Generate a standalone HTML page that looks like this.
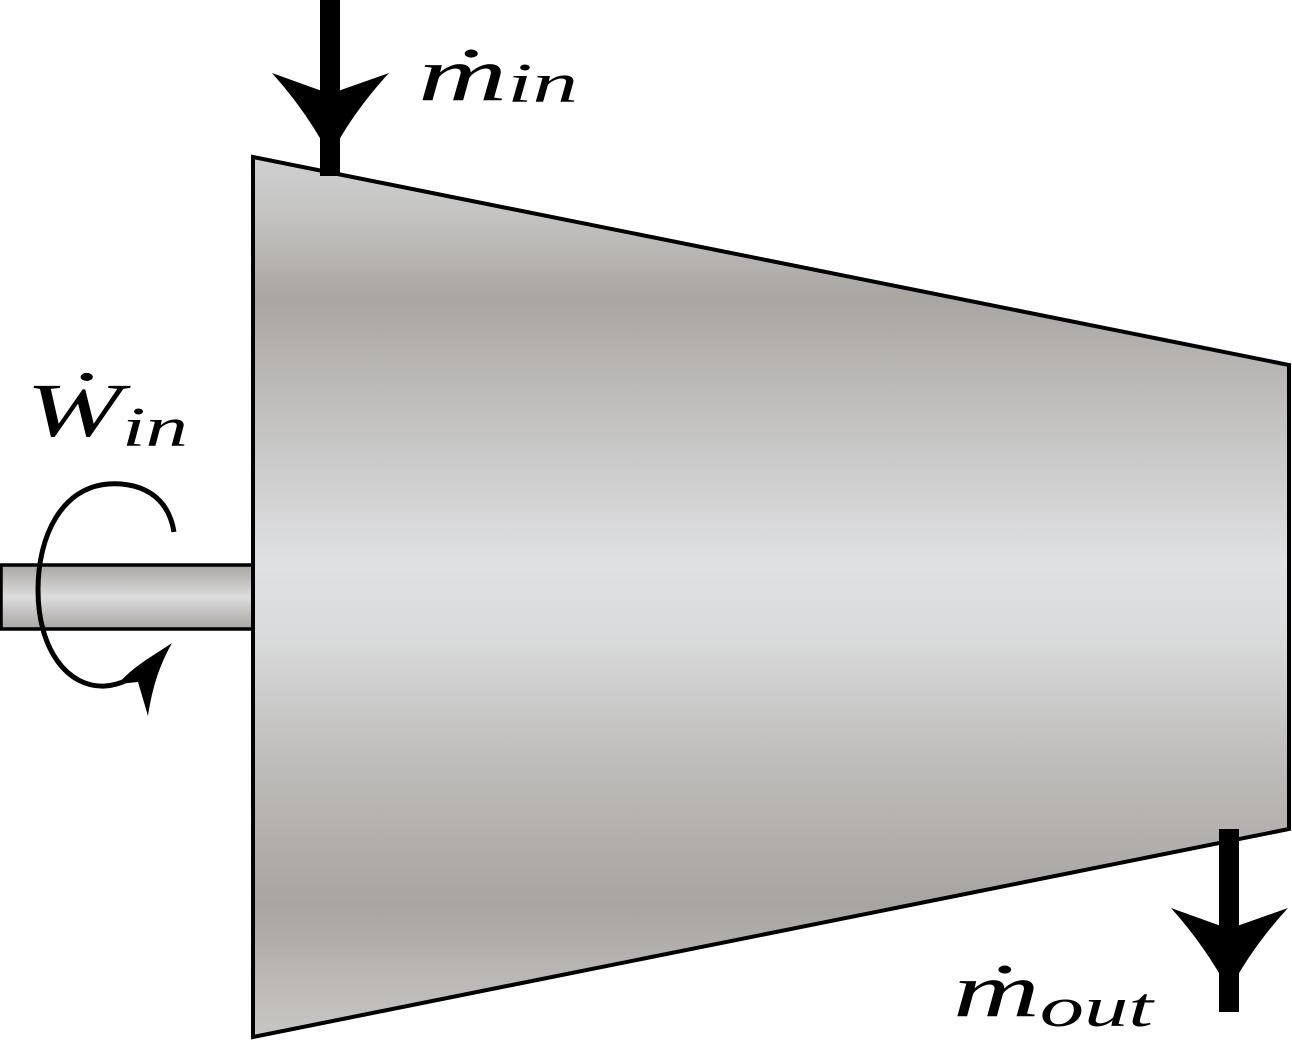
<!DOCTYPE html>
<html><head><meta charset="utf-8"><style>
html,body{margin:0;padding:0;background:#fff;}
svg{display:block;}
text{font-family:"Liberation Serif",serif;font-style:italic;fill:#000;}
</style></head><body>
<svg width="1292" height="1040" viewBox="0 0 1292 1040">
<defs>
<linearGradient id="body" x1="0" y1="0" x2="0" y2="1">
<stop offset="0" stop-color="#cfcfcf"/>
<stop offset="0.06" stop-color="#c6c5c4"/>
<stop offset="0.16" stop-color="#a9a5a1"/>
<stop offset="0.3" stop-color="#c3c2c1"/>
<stop offset="0.46" stop-color="#dfe0e2"/>
<stop offset="0.54" stop-color="#dadbdc"/>
<stop offset="0.7" stop-color="#bcbab8"/>
<stop offset="0.85" stop-color="#a8a4a0"/>
<stop offset="1" stop-color="#c9c7c4"/>
</linearGradient>
<linearGradient id="shaft" x1="0" y1="0" x2="0" y2="1">
<stop offset="0" stop-color="#a9a5a1"/>
<stop offset="0.5" stop-color="#dcdcdd"/>
<stop offset="1" stop-color="#a9a5a1"/>
</linearGradient>
</defs>
<rect x="1" y="565" width="252" height="64" fill="url(#shaft)" stroke="#000" stroke-width="3.5"/>
<polygon points="253,157 1289,365 1289,829 253,1037" fill="url(#body)" stroke="#000" stroke-width="4"/>
<g>
<rect x="320" y="0" width="20" height="176" fill="#000"/>
<path d="M272,73 L322,91 L338,91 L389,73 Q353,112 330,156 Q307,112 272,73 Z" fill="#000"/>
</g>
<g>
<rect x="1219" y="829" width="20" height="183" fill="#000"/>
<path d="M1171,908 L1221,926 L1237,926 L1288,908 Q1252,947 1229,991 Q1206,947 1171,908 Z" fill="#000"/>
</g>
<g>
<path d="M174,532 C168,495 140,482 108,484 C62,488 38,535 38,590 C38,650 68,688 105,686 C118,685 128,680 134,676" fill="none" stroke="#000" stroke-width="5"/>
<path d="M172,643 C150,658 135,665 118,684 L138,682 L148,716 C152,690 158,668 172,643 Z" fill="#000"/>
</g>
<text x="418" y="100" font-size="76" textLength="160" lengthAdjust="spacingAndGlyphs">ṁ<tspan font-size="56" dy="2">in</tspan></text>
<text x="26" y="436" font-size="76" textLength="162" lengthAdjust="spacingAndGlyphs">Ẇ<tspan font-size="56" dy="10">in</tspan></text>
<text x="953" y="1016" font-size="76" textLength="200" lengthAdjust="spacingAndGlyphs">ṁ<tspan font-size="56" dy="10">out</tspan></text>
</svg>
</body></html>
